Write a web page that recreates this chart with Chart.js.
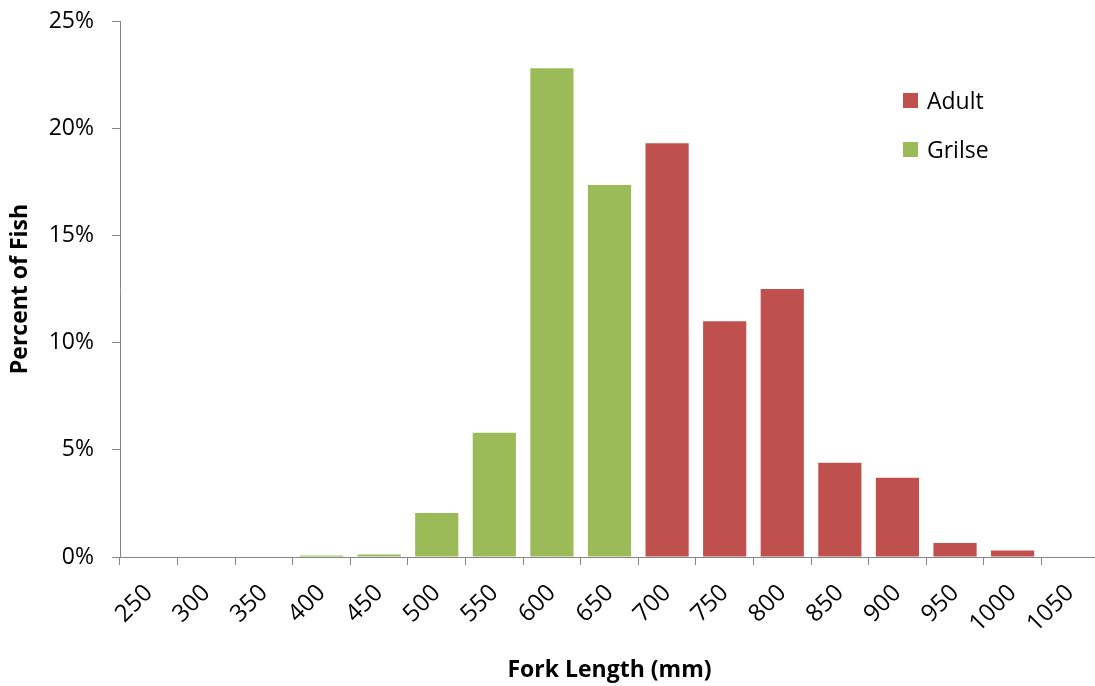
<!DOCTYPE html>
<html>
<head>
<meta charset="utf-8">
<script src="https://cdn.jsdelivr.net/npm/chart.js@4.4.1/dist/chart.umd.min.js"></script>
<style>
    html, body { margin: 0; padding: 0; background: #fff; overflow: hidden; }
    .wrap { position: relative; width: 1095px; height: 686px; overflow: hidden; }
    #chart { position: absolute; left: 0; top: 0; }
    .legend { position: absolute; left: 903px; top: 86px; font-family: 'Open Sans', sans-serif; font-size: 23px; color: #000; }
    .legend-item { display: flex; align-items: center; height: 28px; margin-bottom: 21px; }
    .legend-box { width: 15px; height: 15px; margin-right: 9px; }
</style>
</head>
<body>
<div class="wrap">
    <canvas id="chart" width="1102" height="686"></canvas>
    <div class="legend" id="legend"></div>
</div>
<script>
// Fork length bins (mm)
const categories = ['250', '300', '350', '400', '450', '500', '550', '600', '650',
    '700', '750', '800', '850', '900', '950', '1000', '1050'];

// Percent of fish in each bin
const adultValues = [null, null, null, null, null, null, null, null, null,
    19.3, 11.0, 12.5, 4.4, 3.7, 0.65, 0.3, null];
const grilseValues = [null, null, null, 0.07, 0.12, 2.05, 5.8, 22.8, 17.35,
    null, null, null, null, null, null, null, null];

// Y axis ticks
const yTicks = [0, 5, 10, 15, 20, 25];

const axisColor = '#868686';
const fontFamily = "'Open Sans', sans-serif";

const ctx = document.getElementById('chart').getContext('2d');
const chart = new Chart(ctx, {
    type: 'bar',
    data: {
        labels: categories,
        datasets: [{
            label: 'Adult',
            data: adultValues,
            backgroundColor: '#C0504D',
            borderWidth: 0
        }, {
            label: 'Grilse',
            data: grilseValues,
            backgroundColor: '#9BBB59',
            borderWidth: 0
        }]
    },
    options: {
        responsive: false,
        animation: false,
        devicePixelRatio: 1,
        layout: {
            padding: { top: 21, right: 3, left: 0, bottom: 0 }
        },
        datasets: {
            bar: {
                categoryPercentage: 1,
                barPercentage: 0.75
            }
        },
        plugins: {
            legend: { display: false },
            tooltip: { enabled: false }
        },
        scales: {
            x: {
                stacked: true,
                grid: {
                    drawOnChartArea: false,
                    drawTicks: true,
                    tickLength: 8,
                    color: axisColor
                },
                border: { color: axisColor },
                ticks: {
                    color: '#000',
                    minRotation: 45,
                    maxRotation: 45,
                    autoSkip: false,
                    padding: 14,
                    font: { family: fontFamily, size: 24 }
                },
                title: {
                    display: true,
                    text: 'Fork Length (mm)',
                    color: '#000',
                    padding: { top: 0, bottom: 2 },
                    font: { family: fontFamily, size: 23, weight: 'bold' }
                },
                afterFit: (scale) => {
                    scale.height = 129;
                    scale.paddingLeft = 0;
                    scale.paddingRight = 0;
                }
            },
            y: {
                stacked: true,
                min: 0,
                max: 25,
                afterBuildTicks: (scale) => {
                    scale.ticks = yTicks.map(v => ({ value: v }));
                },
                grid: {
                    drawOnChartArea: false,
                    drawTicks: true,
                    tickLength: 8,
                    color: axisColor
                },
                border: { color: axisColor },
                ticks: {
                    color: '#000',
                    padding: 18,
                    font: { family: fontFamily, size: 23 },
                    callback: value => value + '%'
                },
                title: {
                    display: true,
                    text: 'Percent of Fish',
                    color: '#000',
                    padding: { top: 7, bottom: 0 },
                    font: { family: fontFamily, size: 23, weight: 'bold' }
                },
                afterFit: (scale) => {
                    scale.width = 120;
                    scale.paddingTop = 0;
                    scale.paddingBottom = 0;
                }
            }
        }
    }
});

// Legend (inside the plot area, top right)
const legendEl = document.getElementById('legend');
chart.data.datasets.forEach(ds => {
    const item = document.createElement('div');
    item.className = 'legend-item';
    item.innerHTML = `<span class="legend-box" style="background:${ds.backgroundColor}"></span>${ds.label}`;
    legendEl.appendChild(item);
});
</script>
</body>
</html>
